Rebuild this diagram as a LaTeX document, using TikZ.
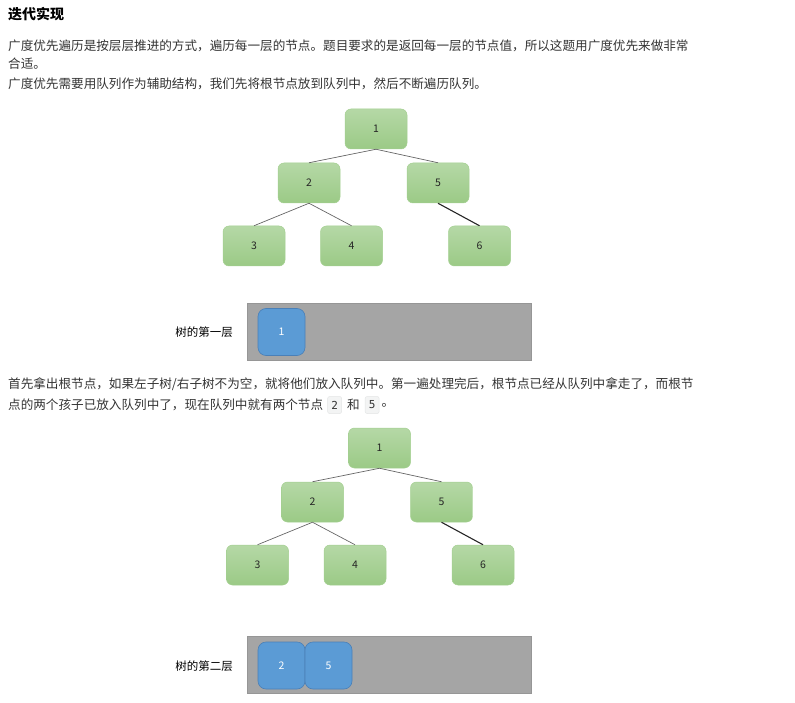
\documentclass[tikz,border=0pt]{standalone}
\usepackage{fontspec}
\setmainfont{Noto Sans CJK SC}
\newfontfamily\codefont{DejaVu Sans Mono}
\usetikzlibrary{positioning}
\definecolor{greenT}{HTML}{B5D8A6}
\definecolor{greenB}{HTML}{9BCA86}
\definecolor{greenD}{HTML}{A3CF90}
\definecolor{blueF}{HTML}{5B9BD5}
\definecolor{blueD}{HTML}{4A80B8}
\definecolor{queueF}{HTML}{A5A5A5}
\definecolor{queueD}{HTML}{969696}
\definecolor{codeF}{HTML}{F3F4F4}
\definecolor{codeD}{HTML}{E3E5E5}
\definecolor{txt}{HTML}{333333}
\tikzset{
  treenode/.style={rectangle, rounded corners=6pt, minimum width=62pt, minimum height=40pt,
    top color=greenT, bottom color=greenB, draw=greenD, line width=0.5pt,
    font=\fontsize{10.5}{12}\selectfont, text=black!85, inner sep=0pt},
  edge/.style={draw=black!60, line width=0.7pt},
  edgedark/.style={draw=black!85, line width=1.1pt},
  queue/.style={rectangle, fill=queueF, draw=queueD, line width=0.6pt, minimum width=284pt, minimum height=57pt, inner sep=0pt},
  qitem/.style={rectangle, rounded corners=8pt, fill=blueF, draw=blueD, line width=0.6pt, minimum width=47pt, minimum height=47pt, text=white, font=\fontsize{10.5}{12}\selectfont, inner sep=0pt},
  qlabel/.style={anchor=center, font=\fontsize{11.5}{13}\selectfont, text=black, inner sep=0pt},
  body/.style={anchor=west, font=\fontsize{12.6}{15}\selectfont, text=txt, inner sep=0pt},
  code/.style={rectangle, fill=codeF, draw=codeD, line width=0.5pt, rounded corners=2pt, font=\codefont\fontsize{11}{13}\selectfont, text=txt, minimum height=17pt, minimum width=14pt, inner xsep=3pt, inner ysep=0pt},
}
\begin{document}
\begin{tikzpicture}[x=1pt,y=-1pt]
\useasboundingbox (0,0) rectangle (795,703);

% title and text
\node[anchor=west, font=\bfseries\fontsize{14}{16}\selectfont, text=black, inner sep=0pt] (title) at (8,14) {迭代实现};
\node[body] (l1) at (8,46) {广度优先遍历是按层层推进的方式，遍历每一层的节点。题目要求的是返回每一层的节点值，所以这题用广度优先来做非常};
\node[body] (l2) at (8,64) {合适。};
\node[body] (l3) at (8,84) {广度优先需要用队列作为辅助结构，我们先将根节点放到队列中，然后不断遍历队列。};

% tree 1
\node[treenode] (a1) at (376,129) {1};
\node[treenode] (a2) at (309,183) {2};
\node[treenode] (a5) at (438,183) {5};
\node[treenode] (a3) at (254,246) {3};
\node[treenode] (a4) at (351.5,246) {4};
\node[treenode] (a6) at (479.5,246) {6};
\draw[edge] (a1.south) -- (a2.north);
\draw[edge] (a1.south) -- (a5.north);
\draw[edge] (a2.south) -- (a3.north);
\draw[edge] (a2.south) -- (a4.north);
\draw[edgedark] (a5.south) -- (a6.north);

% queue 1
\node[qlabel] (lab1) at (204,332) {树的第一层};
\node[queue] (q1) at (389,331.5) {};
\node[qitem] (q1a) at (281.5,332) {1};

% middle text
\node[body] (l4) at (8,384) {首先拿出根节点，如果左子树/右子树不为空，就将他们放入队列中。第一遍处理完后，根节点已经从队列中拿走了，而根节};
\node[body] (l5a) at (8,405) {点的两个孩子已放入队列中了，现在队列中就有两个节点};
\node[code, right=4pt of l5a] (c2) {2};
\node[body, right=5pt of c2] (he) {和};
\node[code, right=5pt of he] (c5) {5};
\node[body, right=2pt of c5] (dot) {。};

% tree 2
\node[treenode] (b1) at (379.5,448) {1};
\node[treenode] (b2) at (312.5,502) {2};
\node[treenode] (b5) at (441.5,502) {5};
\node[treenode] (b3) at (257.5,565) {3};
\node[treenode] (b4) at (355,565) {4};
\node[treenode] (b6) at (483,565) {6};
\draw[edge] (b1.south) -- (b2.north);
\draw[edge] (b1.south) -- (b5.north);
\draw[edge] (b2.south) -- (b3.north);
\draw[edge] (b2.south) -- (b4.north);
\draw[edgedark] (b5.south) -- (b6.north);

% queue 2
\node[qlabel] (lab2) at (204,666) {树的第二层};
\node[queue] (q2) at (389,664.5) {};
\node[qitem] (q2a) at (281.5,665.5) {2};
\node[qitem] (q2b) at (328.5,665.5) {5};
\end{tikzpicture}
\end{document}
